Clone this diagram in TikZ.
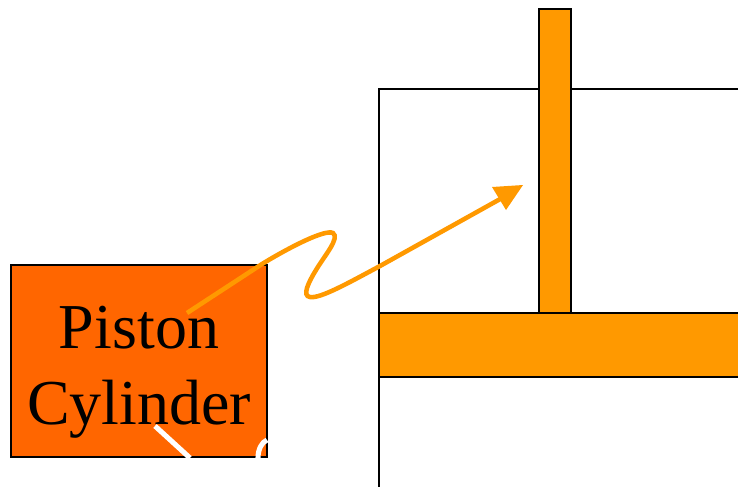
\documentclass[tikz,border=0pt]{standalone}
\usepackage{fontspec}
\setmainfont{Liberation Serif}
\definecolor{deeporange}{RGB}{255,102,0}
\definecolor{pistonorange}{RGB}{255,153,0}
\tikzset{
  px/.style={x=0.75pt,y=-0.75pt},
  blackline/.style={draw=black,line width=1.5pt},
  pistonpart/.style={fill=pistonorange,draw=black,line width=1.5pt},
  squiggle/.style={draw=pistonorange,line width=3.4pt},
  whitestroke/.style={draw=white,line width=3.8pt},
}
\begin{document}
\begin{tikzpicture}[px]
\useasboundingbox (0,0) rectangle (738,487);
\fill[white] (0,0) rectangle (738,487);
\draw[blackline] (738,89) -- (379,89) -- (379,487);
\draw[pistonpart] (539,9) rectangle (571,313);
\fill[pistonorange] (379,313) rectangle (738,377);
\draw[blackline] (738,313) -- (379,313) -- (379,377) -- (738,377);
\node[pistonpart,fill=deeporange,inner sep=0pt,anchor=north west,minimum width=192pt,minimum height=144pt] (box) at (10,264) {};
\node[font=\fontsize{48}{57}\selectfont,align=center,inner sep=0pt,anchor=base] (label) at (139,424) {Piston\\Cylinder};
\coordinate (s) at (187,313);
\coordinate (e) at (523,185);
\draw[squiggle] (s) -- (262,264) .. controls (290,247) and (325,229) .. (333,233) .. controls (340,238) and (325,255) .. (316,270) .. controls (308,283) and (302,296) .. (310,297) .. controls (320,299) and (350,282) .. (380,266) -- (502,198);
\fill[pistonorange] (e) -- (492,187) -- (506,210) -- cycle;
\draw[whitestroke] (155,426) -- (190,458);
\draw[whitestroke] (258,458) .. controls (258,449) and (262,442) .. (267,440);
\end{tikzpicture}
\end{document}
